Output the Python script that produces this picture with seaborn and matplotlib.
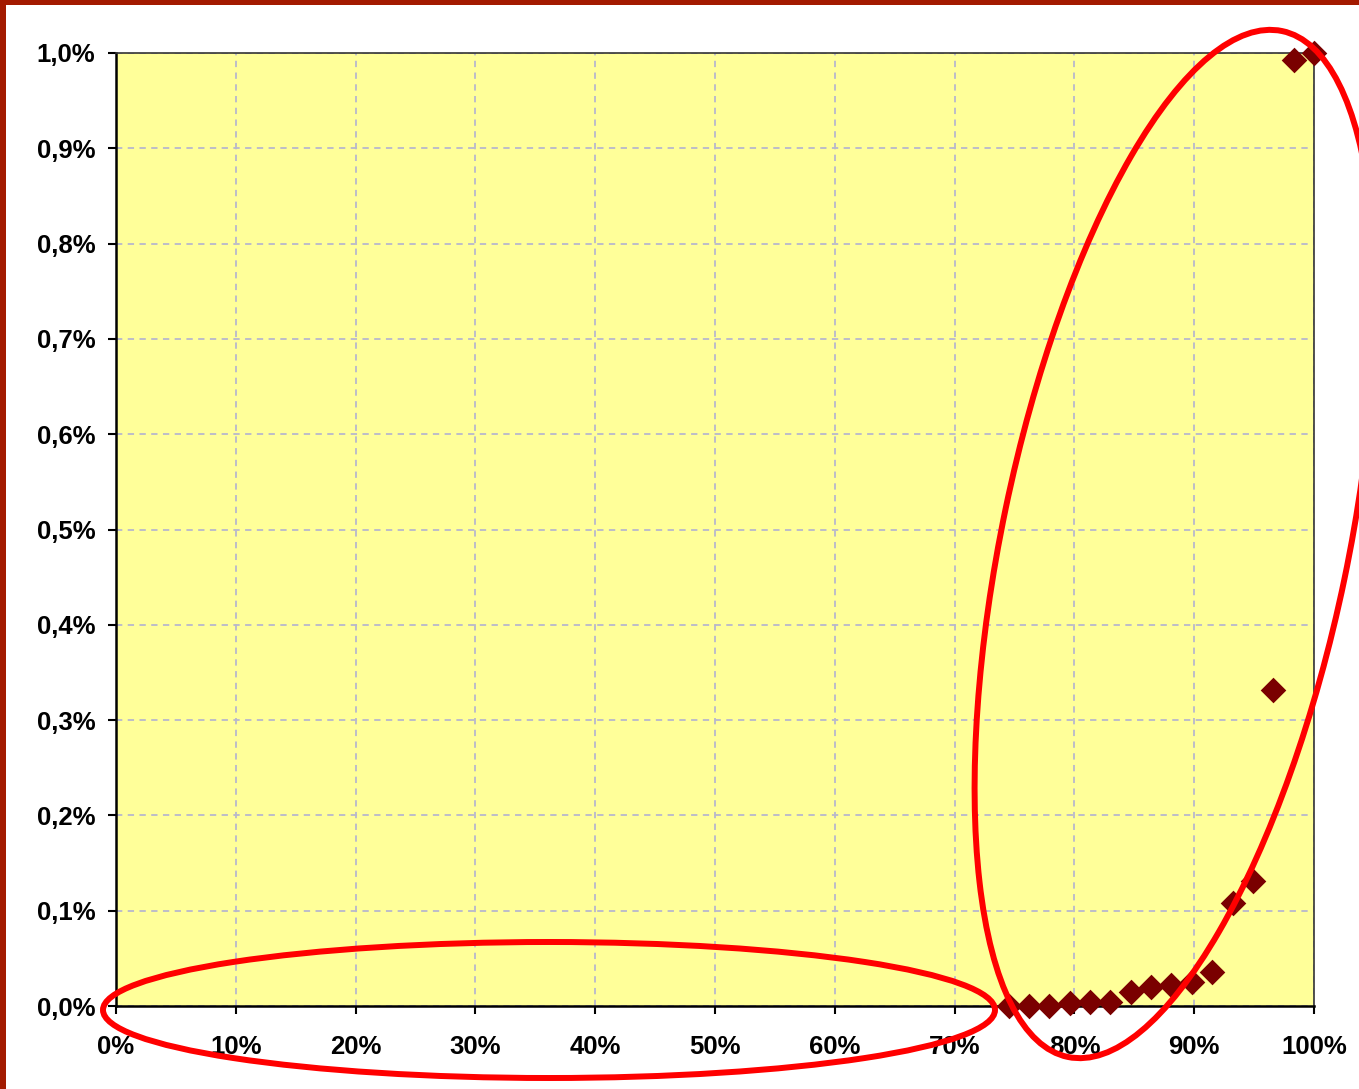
import matplotlib
matplotlib.use("Agg")
import matplotlib.pyplot as plt
from matplotlib.patches import Ellipse, Rectangle
from matplotlib.ticker import FuncFormatter, MultipleLocator
import seaborn as sns
import pandas as pd

# Share of population (x, %) vs. share of total (y, %)
share_x = [74.5, 76.2, 77.9, 79.6, 81.3, 83.0, 84.7, 86.4,
           88.1, 89.8, 91.5, 93.2, 94.9, 96.6, 98.3, 100.0]
share_y = [0.000, 0.000, 0.000, 0.003, 0.004, 0.004, 0.015, 0.020,
           0.022, 0.025, 0.036, 0.108, 0.131, 0.332, 0.993, 1.000]

x_ticks = list(range(0, 101, 10))
y_ticks = [i / 10 for i in range(0, 11)]

df = pd.DataFrame({"x": share_x, "y": share_y})

sns.set_theme(style="white")
plt.rcParams["font.family"] = ["Liberation Sans", "DejaVu Sans"]

W, H, DPI = 1359, 1089, 100
fig = plt.figure(figsize=(W / DPI, H / DPI), dpi=DPI, facecolor="white")
ax = fig.add_axes([116 / W, 1 - 1006 / H, (1314 - 116) / W, (1006 - 53) / H])
ax.set_facecolor("#FFFF99")

sns.scatterplot(data=df, x="x", y="y", ax=ax, marker="D", s=170,
                color="#7A0000", edgecolor="#7A0000", linewidth=0,
                clip_on=False, zorder=5, legend=False)

ax.set_xlim(0, 100)
ax.set_ylim(0, 1.0)
ax.set_xticks(x_ticks)
ax.set_yticks(y_ticks)
ax.xaxis.set_major_formatter(FuncFormatter(lambda v, p: f"{v:.0f}%"))
ax.yaxis.set_major_formatter(
    FuncFormatter(lambda v, p: f"{v:.1f}%".replace(".", ",")))
ax.set_xlabel("")
ax.set_ylabel("")

ax.grid(True, color="#B8B8CC", linestyle=(0, (3.5, 3)), linewidth=1.3)
ax.set_axisbelow(True)

for side in ("left", "bottom"):
    ax.spines[side].set_color("black")
    ax.spines[side].set_linewidth(1.8)
for side in ("top", "right"):
    ax.spines[side].set_color("#333333")
    ax.spines[side].set_linewidth(1.2)

ax.tick_params(axis="both", which="major", direction="out", length=6,
               width=1.5, color="black", labelsize=18.5, labelcolor="black",
               bottom=True, left=True, top=False, right=False)
ax.tick_params(axis="x", pad=15)
ax.tick_params(axis="y", pad=9)
for lbl in ax.get_xticklabels() + ax.get_yticklabels():
    lbl.set_fontweight("bold")

# Highlight rings around the two regions of the curve
ring_kw = dict(fill=False, edgecolor="#FF0000", linewidth=4.3,
               transform=fig.dpi_scale_trans, clip_on=False, zorder=20)
ax.add_patch(Ellipse((549 / DPI, (H - 1010) / DPI), 892 / DPI, 136 / DPI,
                     angle=0, **ring_kw))
ax.add_patch(Ellipse((1175 / DPI, (H - 544) / DPI), 346 / DPI, 1048 / DPI,
                     angle=-11.8, **ring_kw))

# Dark red frame strips on the left and top edges
border = "#A31A00"
fig.patches.append(Rectangle((0, 0), 6 / W, 1, transform=fig.transFigure,
                             facecolor=border, edgecolor="none", zorder=30))
fig.patches.append(Rectangle((0, 1 - 5 / H), 1, 5 / H, transform=fig.transFigure,
                             facecolor=border, edgecolor="none", zorder=30))

fig.savefig("out.png", dpi=DPI, facecolor="white")
